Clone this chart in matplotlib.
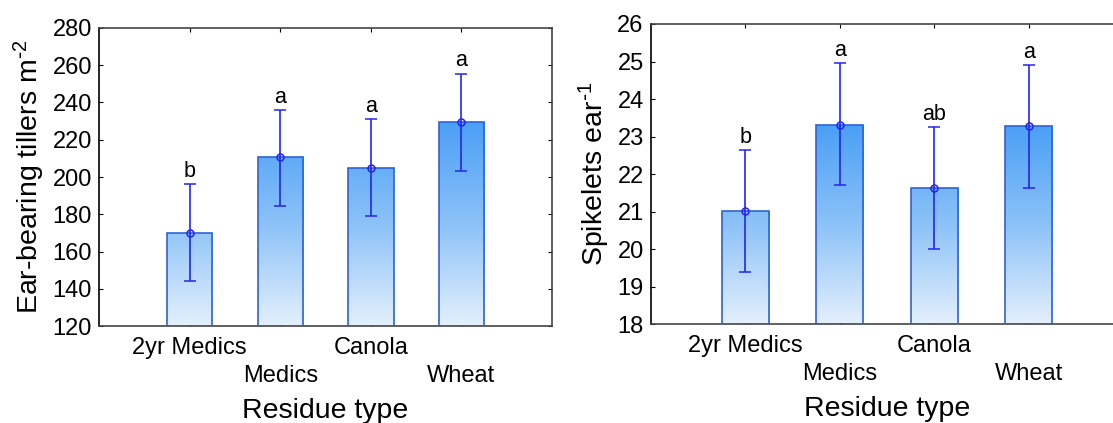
import numpy as np
import matplotlib
matplotlib.use("Agg")
import matplotlib.pyplot as plt
from matplotlib.colors import LinearSegmentedColormap

plt.rcParams['font.family'] = ['Liberation Sans', 'DejaVu Sans']
plt.rcParams['mathtext.default'] = 'regular'

residues = ["2yr Medics", "Medics", "Canola", "Wheat"]

tillers = [170.0, 210.5, 205.0, 229.5]
tillers_lo = [144.0, 184.5, 179.0, 203.5]
tillers_hi = [196.0, 236.0, 231.0, 255.5]
tillers_letters = ["b", "a", "a", "a"]

spikelets = [21.02, 23.32, 21.62, 23.27]
spikelets_lo = [19.40, 21.70, 20.00, 21.63]
spikelets_hi = [22.65, 24.95, 23.25, 24.90]
spikelets_letters = ["b", "a", "ab", "a"]

grad = LinearSegmentedColormap.from_list("bargrad", ["#e4f0fd", "#8cc2f8", "#4a9ff6"])
err_col = "#2424f2"
edge_col = "#2f62d4"


def panel(ax, vals, lo, hi, letters, ylim, yticks, ylabel):
    x = np.arange(1, len(vals) + 1)
    bars = ax.bar(x, [v - ylim[0] for v in vals], bottom=ylim[0], width=0.5,
                  facecolor="none", edgecolor=edge_col, linewidth=1.2, zorder=3)
    # vertical gradient shared by all bars, clipped to each bar outline
    top = max(vals)
    g = np.linspace(0, 1, 256).reshape(-1, 1)
    for b in bars:
        im = ax.imshow(g, cmap=grad, origin="lower", aspect="auto",
                       extent=[b.get_x(), b.get_x() + b.get_width(), ylim[0], top],
                       zorder=2)
        im.set_clip_path(b)
    yerr = [np.array(vals) - np.array(lo), np.array(hi) - np.array(vals)]
    ax.errorbar(x, vals, yerr=yerr, fmt="o", color=err_col, mfc="none",
                mec=err_col, ms=5, mew=1.1, elinewidth=1.2, capsize=4,
                capthick=1.2, zorder=4)
    for xi, h, t in zip(x, hi, letters):
        ax.annotate(t, (xi, h), xytext=(0, 1.5), textcoords="offset points",
                    ha="center", va="bottom", fontsize=15.5)
    ax.set_xlim(0, 5)
    ax.set_ylim(*ylim)
    ax.set_yticks(yticks)
    ax.set_xticks(x)
    ax.set_xticklabels(residues)
    ax.tick_params(direction="in", top=True, right=True, length=3, width=0.8,
                   labelsize=17)
    ax.tick_params(axis="y", pad=5)
    # alternate the category labels on two rows
    for i, tk in enumerate(ax.xaxis.get_major_ticks()):
        tk.set_pad(7.5 if i % 2 == 0 else 28)
    for s in ax.spines.values():
        s.set_color("#444444")
        s.set_linewidth(1.2)
    ax.spines["left"].set_color("black")
    ax.set_xlabel("Residue type", fontsize=20.5, labelpad=8)
    ax.set_ylabel(ylabel, fontsize=20.5, labelpad=4)


fig = plt.figure(figsize=(11.13, 4.23), dpi=100)
ax1 = fig.add_axes([0.089, 0.229, 0.407, 0.705])
ax2 = fig.add_axes([0.5846, 0.2333, 0.4245, 0.7100])

panel(ax1, tillers, tillers_lo, tillers_hi, tillers_letters,
      (120, 280), np.arange(120, 281, 20), r"Ear-bearing tillers m$^{\text{-}2}$")
panel(ax2, spikelets, spikelets_lo, spikelets_hi, spikelets_letters,
      (18, 26), np.arange(18, 27, 1), r"Spikelets ear$^{\text{-}1}$")

fig.savefig("out.png", dpi=100)
